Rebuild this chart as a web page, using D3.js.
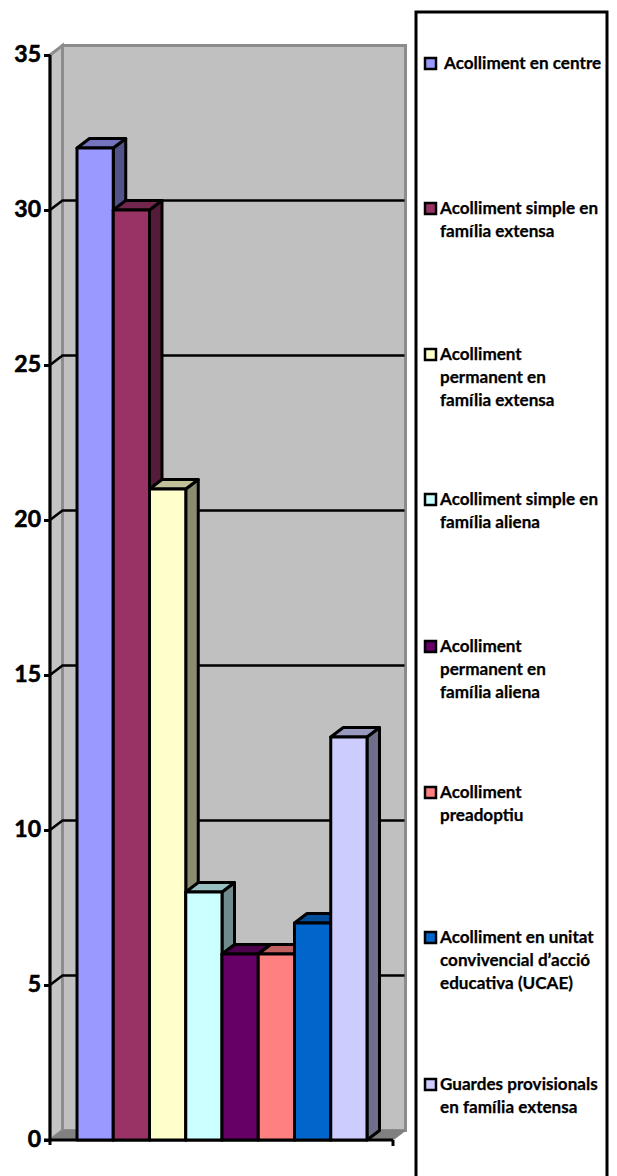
<!DOCTYPE html>
<html><head><meta charset="utf-8">
<script src="https://cdnjs.cloudflare.com/ajax/libs/d3/7.8.5/d3.min.js"></script>
<style>html,body{margin:0;padding:0;background:#fff}svg{display:block}text{font-family:Lato,"Open Sans",sans-serif;font-weight:700;fill:#000;stroke:#000;stroke-width:.25px}</style>
</head><body><svg id="c" width="617" height="1176"></svg>
<script>
const categories=["Acolliment en centre","Acolliment simple en família extensa","Acolliment permanent en família extensa","Acolliment simple en família aliena","Acolliment permanent en família aliena","Acolliment preadoptiu","Acolliment en unitat convivencial d’acció educativa (UCAE)","Guardes provisionals en família extensa"];
const values=[32,30,21,8,6,6,7,13];
const colors=["#9999ff","#993366","#ffffcc","#ccffff","#660066","#ff8080","#0066cc","#ccccff"];
const legendLines=[["Acolliment en centre"],["Acolliment simple en","família extensa"],["Acolliment","permanent en","família extensa"],["Acolliment simple en","família aliena"],["Acolliment","permanent en","família aliena"],["Acolliment","preadoptiu"],["Acolliment en unitat","convivencial d’acció","educativa (UCAE)"],["Guardes provisionals","en família extensa"]];
const legendY=[63,208,354,499,646,792,937,1084];
const yTicks=[0,5,10,15,20,25,30,35];

const svg=d3.select("#c");
const y=d3.scaleLinear().domain([0,35]).range([1140,55]);
const x=d3.scaleBand().domain(categories).range([77,367]).padding(0);
const DX=12.5,DY=-9.5,L=50,R=393;
const pts=a=>a.map(p=>p.join(",")).join(" ");

// back wall, side wall, floor
svg.append("polygon").attr("points",pts([[L+DX,y(35)+DY],[R+DX,y(35)+DY],[R+DX,y(0)+DY],[L+DX,y(0)+DY]])).attr("fill","#c0c0c0").attr("stroke","#8c8c8c").attr("stroke-width",3);
svg.append("polygon").attr("points",pts([[L,y(35)],[L+DX,y(35)+DY],[L+DX,y(0)+DY],[L,y(0)]])).attr("fill","#c4c4c4").attr("stroke","#8c8c8c").attr("stroke-width",3);
svg.append("polygon").attr("points",pts([[L,y(0)],[L+DX,y(0)+DY],[R+DX,y(0)+DY],[R,y(0)]])).attr("fill","#808080").attr("stroke","#808080").attr("stroke-width",1);

// gridlines
yTicks.filter(t=>t>0&&t<35).forEach(t=>{
  svg.append("polyline").attr("points",pts([[L,y(t)],[L+DX,y(t)+DY],[R+DX-1,y(t)+DY]])).attr("fill","none").attr("stroke","#000").attr("stroke-width",2.6);
});

// axes
const axisY=svg.append("g").attr("transform",`translate(${L},0)`).call(d3.axisLeft(y).tickValues(yTicks).tickSize(6).tickPadding(3));
axisY.selectAll("path").remove();
axisY.selectAll("line").attr("stroke","#000").attr("stroke-width",3);
axisY.selectAll("text").attr("font-size",23).style("font-family","Lato").style("stroke-width","0.6px").attr("dy","0.3em");
svg.append("line").attr("x1",L).attr("x2",L).attr("y1",y(35)).attr("y2",y(0)+5).attr("stroke","#000").attr("stroke-width",3);
svg.append("line").attr("x1",L-6).attr("x2",R).attr("y1",y(0)).attr("y2",y(0)).attr("stroke","#000").attr("stroke-width",3);
svg.append("line").attr("x1",R).attr("x2",R).attr("y1",y(0)).attr("y2",y(0)+6).attr("stroke","#000").attr("stroke-width",3);

// bars
const bars=svg.selectAll("g.bar").data(categories.map((c,i)=>({c,v:values[i],col:colors[i]}))).join("g").attr("class","bar")
  .attr("stroke","#000").attr("stroke-width",3).attr("stroke-linejoin","round");
bars.append("polygon").attr("fill",d=>d3.rgb(d.col).darker(1.7).formatHex()).attr("points",d=>{const r=x(d.c)+x.bandwidth(),t=y(d.v);return pts([[r,t],[r+DX,t+DY],[r+DX,y(0)+DY],[r,y(0)]]);});
bars.append("polygon").attr("fill",d=>d3.rgb(d.col).darker(0.8).formatHex()).attr("points",d=>{const l=x(d.c),r=l+x.bandwidth(),t=y(d.v);return pts([[l,t],[l+DX,t+DY],[r+DX,t+DY],[r,t]]);});
bars.append("rect").attr("fill",d=>d.col).attr("x",d=>x(d.c)).attr("width",x.bandwidth()).attr("y",d=>y(d.v)).attr("height",d=>y(0)-y(d.v));

// legend
svg.append("rect").attr("x",416).attr("y",12).attr("width",191).attr("height",1200).attr("fill","#fff").attr("stroke","#000").attr("stroke-width",3);
legendLines.forEach((lines,i)=>{
  const g=svg.append("g");
  g.append("rect").attr("x",425).attr("y",legendY[i]-5).attr("width",11).attr("height",11).attr("fill",colors[i]).attr("stroke","#000").attr("stroke-width",2.5);
  lines.forEach((s,j)=>g.append("text").attr("x",i===0?444:440).attr("y",legendY[i]+5.5+j*23).attr("font-size",17.1).text(s));
});
</script></body></html>
